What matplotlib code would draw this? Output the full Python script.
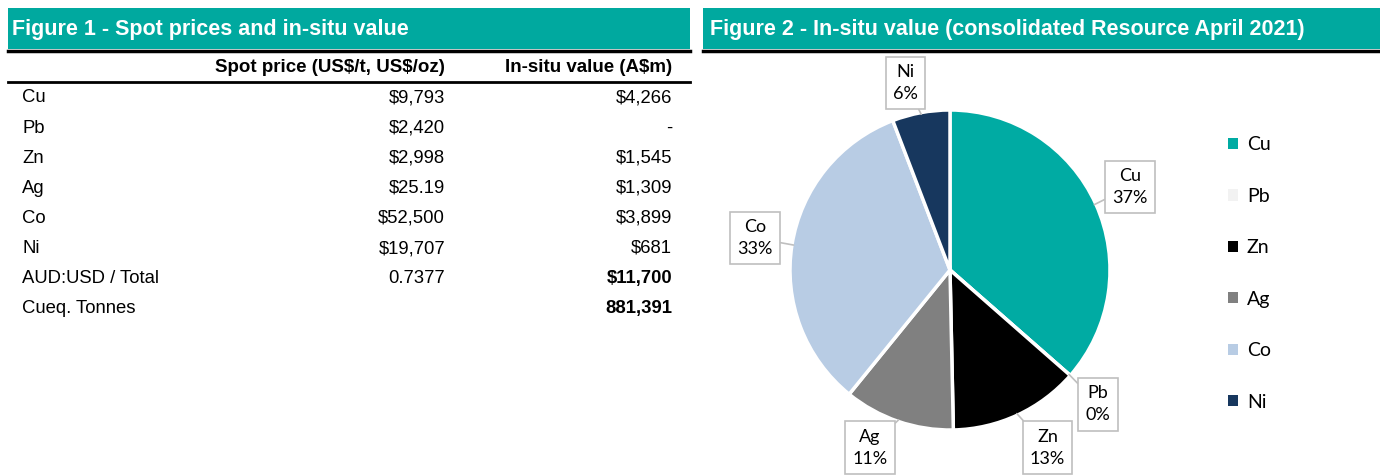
import numpy as np
import matplotlib.pyplot as plt
from matplotlib.patches import Rectangle

# table data
metals = ["Cu", "Pb", "Zn", "Ag", "Co", "Ni"]
spot_prices = ["$9,793", "$2,420", "$2,998", "$25.19", "$52,500", "$19,707"]
insitu_labels = ["$4,266", "-", "$1,545", "$1,309", "$3,899", "$681"]
fx_rate = "0.7377"
total_value = "$11,700"
cueq_tonnes = "881,391"

# pie data (A$m) and the percentage labels as printed on the chart
insitu_values = [4266, 0, 1545, 1309, 3899, 681]
pct_labels = ["37%", "0%", "13%", "11%", "33%", "6%"]
pie_colors = ["#00ABA3", "#F2F2F2", "#000000", "#808080", "#B8CCE4", "#17375E"]

TEAL = "#00A99F"
W, H = 1380, 475

fig = plt.figure(figsize=(13.8, 4.75), dpi=100)

# background axes in pixel coords for the table and headers
bg = fig.add_axes([0, 0, 1, 1])
bg.set_xlim(0, W)
bg.set_ylim(H, 0)
bg.axis("off")

# header bars
bg.add_patch(Rectangle((8, 8), 682, 41, color=TEAL, lw=0))
bg.add_patch(Rectangle((703, 8), 677, 41, color=TEAL, lw=0))
bg.plot([8, 690], [50.5, 50.5], color="black", lw=2.5)
bg.plot([703, 1380], [50.5, 50.5], color="black", lw=2.5)
tfont = dict(family="Liberation Sans", fontsize=15.5, fontweight="bold", color="white",
             va="center", parse_math=False)
bg.text(12, 29, "Figure 1 - Spot prices and in-situ value", **tfont)
bg.text(710, 29, "Figure 2 - In-situ value (consolidated Resource April 2021)", **tfont)

# table
col1_x, col2_x, lab_x = 445, 672, 22
hfont = dict(family="Liberation Sans", fontsize=13.5, fontweight="bold", va="center",
             ha="right", parse_math=False)
bg.text(col1_x, 67, "Spot price (US$/t, US$/oz)", **hfont)
bg.text(col2_x, 67, "In-situ value (A$m)", **hfont)
bg.plot([8, 690], [82, 82], color="black", lw=2)

rfont = dict(family="Liberation Sans", fontsize=13.3, va="center", parse_math=False)
row_labels = metals + ["AUD:USD / Total", "Cueq. Tonnes"]
col1 = spot_prices + [fx_rate, ""]
col2 = insitu_labels + [total_value, cueq_tonnes]
for i, lab in enumerate(row_labels):
    y = 98 + i * 30.1
    bg.text(lab_x, y, lab, ha="left", **rfont)
    bg.text(col1_x, y, col1[i], ha="right", **rfont)
    bold = "bold" if i >= len(metals) else "normal"
    bg.text(col2_x, y, col2[i], ha="right", fontweight=bold, **rfont)

# pie
cx, cy, r = 950, 270, 160
pax = fig.add_axes([(cx - r) / W, (H - cy - r) / H, 2 * r / W, 2 * r / H])
wedges, _ = pax.pie(insitu_values, colors=pie_colors, startangle=90, counterclock=False,
                    wedgeprops=dict(edgecolor="white", linewidth=2.5))
pax.set_xlim(-1, 1)
pax.set_ylim(-1, 1)
pax.set_aspect("equal")

# callout label positions (in pie radius units)
label_pos = {"Cu": (1.125, 0.52), "Pb": (0.925, -0.84), "Zn": (0.61, -1.11),
             "Ag": (-0.5, -1.11), "Co": (-1.22, 0.2), "Ni": (-0.28, 1.17)}
for w, name, pct in zip(wedges, metals, pct_labels):
    ang = np.deg2rad((w.theta1 + w.theta2) / 2)
    xy = (0.99 * np.cos(ang), 0.99 * np.sin(ang))
    pax.annotate(f"{name}\n{pct}", xy=xy, xytext=label_pos[name], ha="center", va="center",
                 family="Lato", fontsize=13, linespacing=1.45, annotation_clip=False,
                 bbox=dict(boxstyle="square,pad=0.4", fc="white", ec="#BFBFBF", lw=1.2),
                 arrowprops=dict(arrowstyle="-", color="#BFBFBF", lw=1.2, shrinkA=0, shrinkB=0))

leg = pax.legend(wedges, metals, loc="upper left", bbox_to_anchor=(1.315, 0.972), frameon=False,
                 handlelength=0.5, handleheight=0.5, handletextpad=0.45, labelspacing=1.77,
                 prop=dict(family="Lato", size=14))
for h in leg.legend_handles:
    h.set_edgecolor("none")

fig.savefig("out.png", dpi=100)
